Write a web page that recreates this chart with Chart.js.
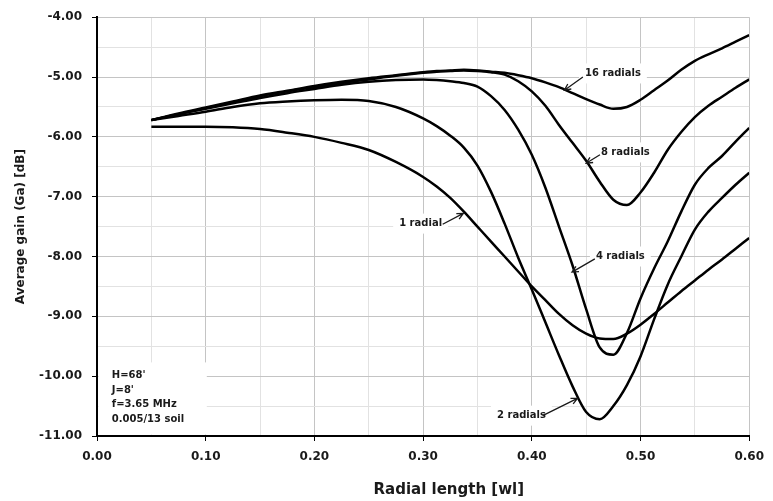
<!DOCTYPE html>
<html>
<head>
<meta charset="utf-8">
<script src="https://cdn.jsdelivr.net/npm/chart.js@4.4.0/dist/chart.umd.min.js"></script>
<style>
  html, body { margin: 0; padding: 0; background: #fff; }
  #wrap { width: 773px; height: 501px; position: relative; }
</style>
</head>
<body>
<div id="wrap"><canvas id="gain-chart"></canvas></div>
<script>
// radial length in wavelengths
const radialLength = [0.05, 0.075, 0.10, 0.125, 0.15, 0.175, 0.20, 0.225, 0.25, 0.275, 0.30, 0.3125, 0.325,
  0.3375, 0.35, 0.3625, 0.375, 0.3875, 0.40, 0.4125, 0.425, 0.4375, 0.45, 0.4625, 0.475, 0.4875, 0.50,
  0.5125, 0.525, 0.5375, 0.55, 0.5625, 0.575, 0.5875, 0.60];

// average gain [dB]
const gain1 = [-5.83, -5.83, -5.83, -5.84, -5.87, -5.93, -6.00, -6.10, -6.22, -6.42, -6.67, -6.83, -7.02,
  -7.25, -7.50, -7.75, -8.00, -8.25, -8.50, -8.73, -8.96, -9.15, -9.29, -9.37, -9.38, -9.29, -9.14,
  -8.96, -8.77, -8.58, -8.40, -8.22, -8.05, -7.87, -7.69];
const gain2 = [-5.72, -5.65, -5.58, -5.50, -5.44, -5.41, -5.39, -5.38, -5.40, -5.50, -5.69, -5.82, -5.98,
  -6.18, -6.48, -6.92, -7.45, -8.02, -8.55, -9.10, -9.65, -10.17, -10.60, -10.72, -10.50, -10.15, -9.67,
  -9.05, -8.47, -8.00, -7.55, -7.25, -7.02, -6.80, -6.60];
const gain4 = [-5.72, -5.62, -5.53, -5.44, -5.35, -5.27, -5.20, -5.13, -5.08, -5.05, -5.04, -5.05, -5.07,
  -5.10, -5.16, -5.32, -5.55, -5.88, -6.30, -6.85, -7.50, -8.15, -8.88, -9.52, -9.64, -9.28, -8.70,
  -8.20, -7.75, -7.25, -6.80, -6.52, -6.32, -6.08, -5.85];
const gain8 = [-5.72, -5.62, -5.52, -5.42, -5.32, -5.24, -5.17, -5.10, -5.04, -4.98, -4.93, -4.91, -4.90,
  -4.89, -4.90, -4.92, -4.96, -5.07, -5.24, -5.48, -5.80, -6.10, -6.40, -6.75, -7.05, -7.14, -6.93,
  -6.60, -6.22, -5.92, -5.67, -5.48, -5.33, -5.18, -5.04];
const gain16 = [-5.72, -5.61, -5.51, -5.41, -5.31, -5.23, -5.15, -5.08, -5.02, -4.97, -4.92, -4.90, -4.89,
  -4.88, -4.89, -4.91, -4.93, -4.97, -5.02, -5.09, -5.17, -5.27, -5.37, -5.46, -5.53, -5.50, -5.38,
  -5.22, -5.06, -4.88, -4.73, -4.62, -4.52, -4.41, -4.30];

const seriesNames = ['1 radial', '2 radials', '4 radials', '8 radials', '16 radials'];
const seriesValues = [gain1, gain2, gain4, gain8, gain16];

// curve labels: text anchor and arrow, in data units
const curveNotes = [
  { text: '16 radials', x: 0.449, y: -4.94, ax: 0.447, ay: -5.00, tx: 0.430, ty: -5.22 },
  { text: '8 radials', x: 0.4636, y: -6.26, ax: 0.4627, ay: -6.30, tx: 0.450, ty: -6.44 },
  { text: '1 radial', x: 0.278, y: -7.45, ax: 0.318, ay: -7.46, tx: 0.337, ty: -7.28 },
  { text: '4 radials', x: 0.459, y: -8.00, ax: 0.458, ay: -8.04, tx: 0.437, ty: -8.26 },
  { text: '2 radials', x: 0.368, y: -10.66, ax: 0.410, ay: -10.66, tx: 0.442, ty: -10.37 }
];
const infoLines = ["H=68'", "J=8'", 'f=3.65 MHz', '0.005/13 soil'];
const xTitle = 'Radial length [wl]';

const FONT = "'DejaVu Sans', sans-serif";
const isMajor = (v, step) => Math.abs(v / step - Math.round(v / step)) < 1e-6;

const notesPlugin = {
  id: 'notes',
  beforeDatasetsDraw(chart) {
    const ctx = chart.ctx;
    const xs = chart.scales.x, ys = chart.scales.y;
    ctx.save();
    ctx.fillStyle = '#fff';
    // info box in the lower left
    const l = xs.getPixelForValue(0) + 1.5, r = xs.getPixelForValue(0.101);
    const t = ys.getPixelForValue(-9.77), b = ys.getPixelForValue(-11) - 1.5;
    ctx.fillRect(l, t, r - l, b - t);
    ctx.font = 'bold 10px ' + FONT;
    curveNotes.forEach(n => {
      const px = xs.getPixelForValue(n.x), py = ys.getPixelForValue(n.y);
      const w = ctx.measureText(n.text).width;
      ctx.fillRect(px - 6, py - 10, w + 12, 20);
    });
    ctx.restore();
  },
  afterDatasetsDraw(chart) {
    const ctx = chart.ctx;
    const xs = chart.scales.x, ys = chart.scales.y;
    ctx.save();
    ctx.fillStyle = '#1a1a1a';
    ctx.strokeStyle = '#1a1a1a';
    ctx.font = 'bold 10px ' + FONT;
    ctx.textAlign = 'left';
    ctx.textBaseline = 'middle';
    curveNotes.forEach(n => {
      ctx.fillText(n.text, xs.getPixelForValue(n.x), ys.getPixelForValue(n.y));
      const x0 = xs.getPixelForValue(n.ax), y0 = ys.getPixelForValue(n.ay);
      const x1 = xs.getPixelForValue(n.tx), y1 = ys.getPixelForValue(n.ty);
      ctx.lineWidth = 1.3;
      ctx.beginPath();
      ctx.moveTo(x0, y0);
      ctx.lineTo(x1, y1);
      const ang = Math.atan2(y1 - y0, x1 - x0);
      ctx.moveTo(x1 - 7 * Math.cos(ang - 0.45), y1 - 7 * Math.sin(ang - 0.45));
      ctx.lineTo(x1, y1);
      ctx.lineTo(x1 - 7 * Math.cos(ang + 0.45), y1 - 7 * Math.sin(ang + 0.45));
      ctx.stroke();
    });
    ctx.font = 'bold 10px ' + FONT;
    const lx = xs.getPixelForValue(0.0136);
    infoLines.forEach((s, i) => {
      ctx.fillText(s, lx, ys.getPixelForValue(-9.99 - i * 0.245));
    });
    // x axis title, sits a bit right of centre like the original
    ctx.font = 'bold 15px ' + FONT;
    ctx.textAlign = 'center';
    ctx.fillText(xTitle, xs.getPixelForValue(0.3236), chart.height - 11);
    ctx.restore();
  }
};

new Chart(document.getElementById('gain-chart'), {
  type: 'line',
  data: {
    datasets: seriesValues.map((vals, i) => ({
      label: seriesNames[i],
      data: radialLength.map((x, j) => ({ x: x, y: vals[j] })),
      borderColor: '#000',
      borderWidth: 2.5,
      pointRadius: 0,
      fill: false,
      cubicInterpolationMode: 'monotone'
    }))
  },
  options: {
    responsive: true,
    maintainAspectRatio: false,
    animation: false,
    layout: { padding: { top: 17, right: 16, left: 0, bottom: 0 } },
    plugins: {
      legend: { display: false },
      tooltip: { enabled: false }
    },
    scales: {
      x: {
        type: 'linear',
        min: 0,
        max: 0.6,
        afterFit: scale => { scale.height = 65; },
        border: { color: '#000', width: 2 },
        grid: {
          color: c => isMajor(c.tick.value, 0.1) ? '#c4c4c4' : '#e2e2e2',
          tickColor: c => isMajor(c.tick.value, 0.1) ? '#000' : 'rgba(0,0,0,0)',
          tickLength: 5,
          lineWidth: 1
        },
        ticks: {
          stepSize: 0.05,
          autoSkip: false,
          maxRotation: 0,
          padding: 9,
          color: '#1a1a1a',
          font: { family: FONT, size: 12, weight: 'bold' },
          callback: v => isMajor(v, 0.1) ? v.toFixed(2) : ''
        }
      },
      y: {
        min: -11,
        max: -4,
        afterFit: scale => { scale.width = 97; },
        border: { color: '#000', width: 2 },
        grid: {
          color: c => isMajor(c.tick.value, 1) ? '#c4c4c4' : '#e2e2e2',
          tickColor: c => isMajor(c.tick.value, 1) ? '#000' : 'rgba(0,0,0,0)',
          tickLength: 5,
          lineWidth: 1
        },
        ticks: {
          stepSize: 0.5,
          autoSkip: false,
          padding: 10,
          color: '#1a1a1a',
          font: { family: FONT, size: 12, weight: 'bold' },
          callback: v => isMajor(v, 1) ? v.toFixed(2) : ''
        },
        title: {
          display: true,
          text: 'Average gain (Ga) [dB]',
          color: '#1a1a1a',
          font: { family: FONT, size: 12, weight: 'bold' },
          padding: { top: 14, bottom: 0 }
        }
      }
    }
  },
  plugins: [notesPlugin]
});
</script>
</body>
</html>
